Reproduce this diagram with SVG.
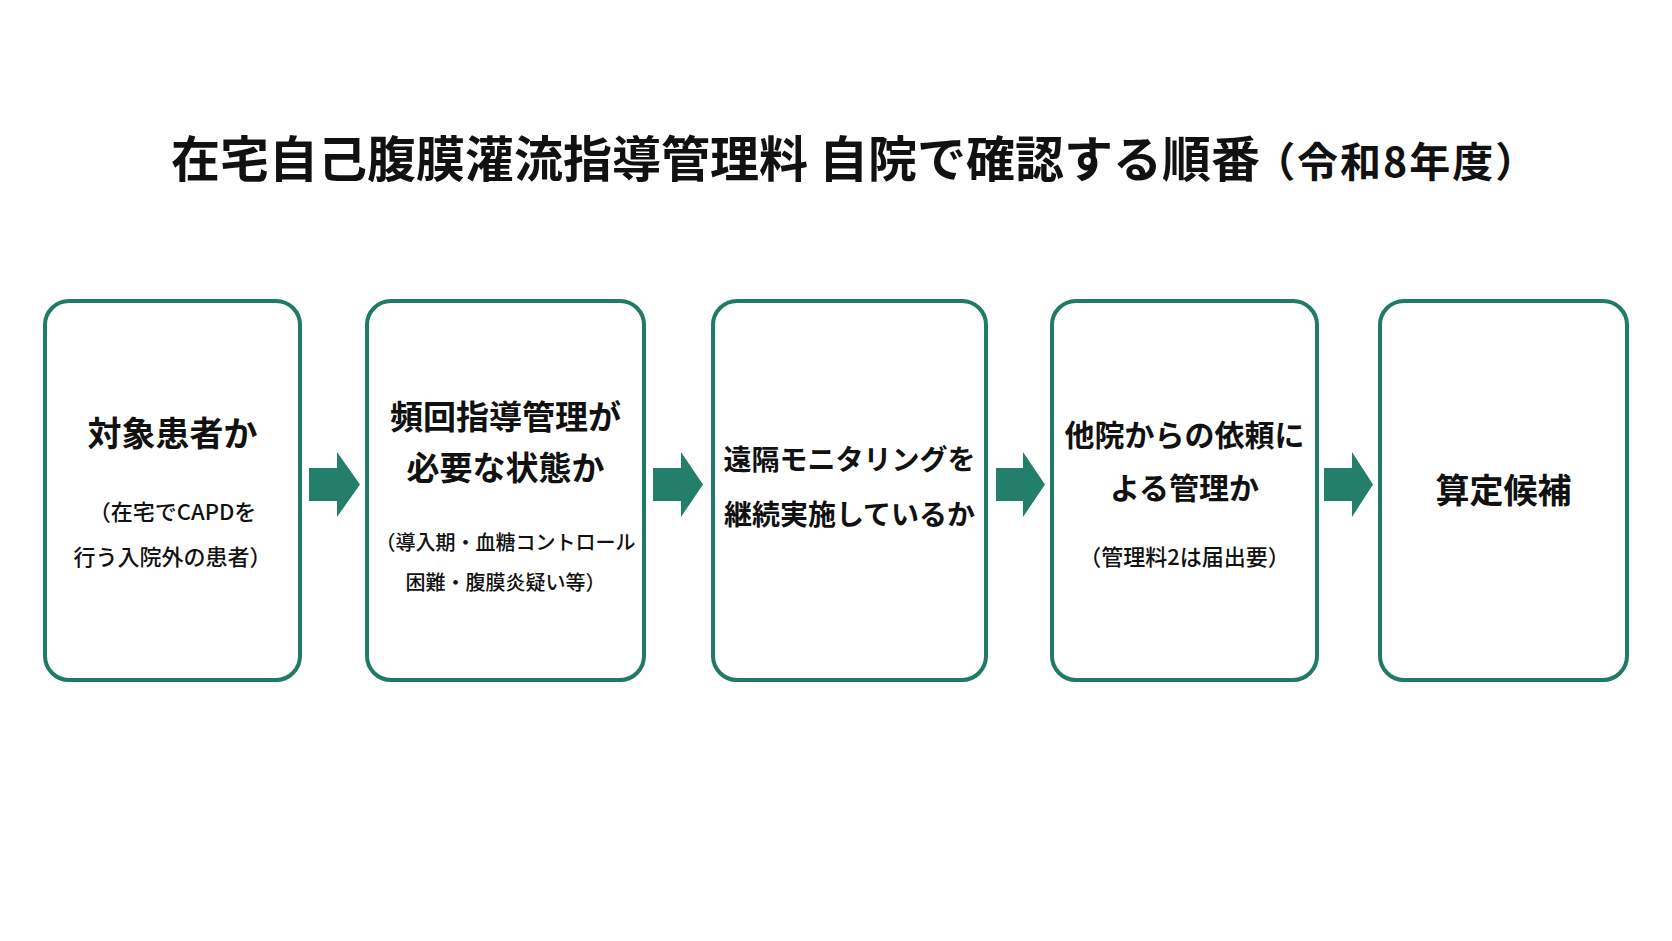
<svg xmlns="http://www.w3.org/2000/svg" width="1672" height="941" viewBox="0 0 1672 941">
<style>
.box{fill:#ffffff;stroke:#1f7a66;stroke-width:4}
.arr{fill:#237e6a}
text{font-family:"Noto Sans CJK JP","Noto Sans",sans-serif;fill:#111111;text-anchor:middle}
.title{font-size:49px;font-weight:700;text-anchor:start}
.paren{font-size:41px;font-weight:700;letter-spacing:2px}
.h{font-size:33px;font-weight:700}
.s{font-size:22px;font-weight:500}
</style>
<rect width="1672" height="941" fill="#fefefe"/>
<text class="title" x="171" y="177">在宅自己腹膜灌流指導管理料 自院で確認する順番<tspan class="paren" dx="-6">（令和8年度）</tspan></text>
<g id="connectors">
<polygon class="arr" points="309,468 337,468 337,452 360,484.5 337,517 337,501 309,501"/>
<polygon class="arr" points="653,468 681,468 681,452 703,484.5 681,517 681,501 653,501"/>
<polygon class="arr" points="996,468 1023,468 1023,452 1045,484.5 1023,517 1023,501 996,501"/>
<polygon class="arr" points="1324,468 1352,468 1352,452 1373,484.5 1352,517 1352,501 1324,501"/>
</g>
<g id="node1">
<rect class="box" x="45" y="301" width="255" height="379" rx="24"/>
<text class="h" x="172.5" y="446" style="font-size:34px">対象患者か</text>
<text class="s" x="172.5" y="520">（在宅でCAPDを</text>
<text class="s" x="172.5" y="565">行う入院外の患者）</text>
</g>
<g id="node2">
<rect class="box" x="367" y="301" width="277" height="379" rx="24"/>
<text class="h" x="505.5" y="429">頻回指導管理が</text>
<text class="h" x="505.5" y="480">必要な状態か</text>
<text class="s" x="505.5" y="550" style="font-size:20px">（導入期・血糖コントロール</text>
<text class="s" x="505.5" y="590" style="font-size:20px">困難・腹膜炎疑い等）</text>
</g>
<g id="node3">
<rect class="box" x="713" y="301" width="273" height="379" rx="24"/>
<text class="h" x="849.5" y="470" style="font-size:28px">遠隔モニタリングを</text>
<text class="h" x="849.5" y="525" style="font-size:28px">継続実施しているか</text>
</g>
<g id="node4">
<rect class="box" x="1052" y="301" width="265" height="379" rx="24"/>
<text class="h" x="1184.5" y="446" style="font-size:30px">他院からの依頼に</text>
<text class="h" x="1184.5" y="499" style="font-size:30px">よる管理か</text>
<text class="s" x="1184.5" y="565">（管理料2は届出要）</text>
</g>
<g id="node5">
<rect class="box" x="1380" y="301" width="247" height="379" rx="24"/>
<text class="h" x="1503.5" y="503" style="font-size:34px">算定候補</text>
</g>
</svg>
